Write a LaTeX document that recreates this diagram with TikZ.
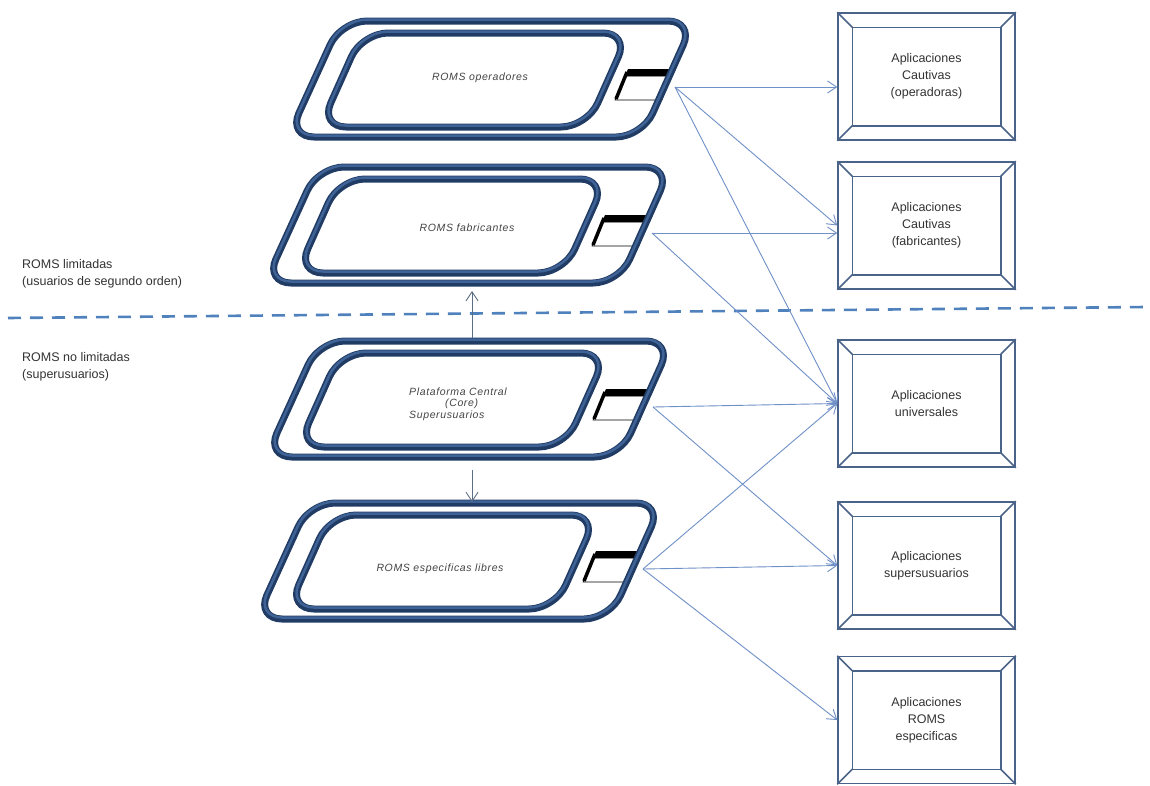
\documentclass[tikz,border=0pt]{standalone}
\usepackage{fontspec}
\setmainfont{Liberation Sans}
\newfontfamily\romfont[LetterSpace=6]{Liberation Sans}
\usepackage{xcolor}
\usetikzlibrary{calc}
\usetikzlibrary{arrows.meta}
\usetikzlibrary{positioning}

\definecolor{ringdark}{HTML}{213C64}
\definecolor{ringlight}{HTML}{3F6396}
\definecolor{linkblue}{HTML}{7090C8}
\definecolor{vlinkgray}{HTML}{5C6E86}
\definecolor{boxline}{HTML}{4A6388}
\definecolor{dashblue}{HTML}{4F81BD}
\definecolor{txtgray}{HTML}{333333}
\definecolor{romtxt}{HTML}{444444}

\begin{document}
\begin{tikzpicture}[x=1pt,y=-1pt]
% 1 = 1px, y runs down
    \def\OTOP{-66}  % outer ring top, relative to port
    \def\OBOT{50}   % outer ring bottom
    \def\ITOP{-54}  % inner ring top
    \def\IBOT{40}   % inner ring bottom

    \tikzset{
      ring/.style={draw=ringdark, line width=7pt, rounded corners=26pt},
      ringhl/.style={draw=ringlight, line width=2.5pt, rounded corners=26pt},
      romlabel/.style={font=\romfont\fontsize{10.5}{11.5}\selectfont\itshape,
        text=romtxt, inner sep=0pt},
      appbox/.style={draw=boxline, line width=1.5pt, minimum width=177pt,
        minimum height=127pt, inner sep=0pt, align=center, text=txtgray,
        font=\fontsize{12.5}{17}\selectfont},
      sidelabel/.style={anchor=west, align=left, inner sep=0pt, text=txtgray,
        font=\fontsize{12.5}{17}\selectfont},
      link/.style={draw=linkblue, line width=0.9pt,
        -{Straight Barb[length=9pt,width=12pt]}},
      vlink/.style={draw=vlinkgray, line width=0.9pt,
        -{Straight Barb[length=9pt,width=12pt]}},
      dashline/.style={draw=dashblue, line width=2.6pt,
        dash pattern=on 13pt off 9pt},
    }

    \path[use as bounding box, fill=white] (0,0) rectangle (1150,785);

    % DASHED BORDER (LIMITADAS / NO LIMITADAS)
    \draw[dashline] (8,318) -- (1145,307);

    % ROM PLATES (port, outer ring, inner ring)
    \foreach \px/\py in {675/87, 652/233, 653/407, 643/569} {
      \begin{scope}[shift={(\px,\py)}]
        \draw[fill=white, line width=0.6pt] (-50,-11) -- (-5,-11)
            -- (-13,13) -- (-60,13) -- cycle;
        \fill[black] (-47,-18) -- (-2,-18) -- (-5,-11) -- (-50,-11) -- cycle;
        \draw[black, line width=3.5pt] (-48,-15) -- (-59,12);
        \draw[ring] (-334,\OTOP) -- (19,\OTOP) -- (-33,\OBOT)
            -- (-387,\OBOT) -- cycle;
        \draw[ringhl] (-334,\OTOP-1.5) -- (19,\OTOP-1.5) -- (-33,\OBOT-1.5)
            -- (-387,\OBOT-1.5) -- cycle;
        \draw[ring, fill=white] (-313,\ITOP) -- (-46,\ITOP) -- (-88,\IBOT)
            -- (-355,\IBOT) -- cycle;
        \draw[ringhl] (-313,\ITOP-1.5) -- (-46,\ITOP-1.5) -- (-88,\IBOT-1.5)
            -- (-355,\IBOT-1.5) -- cycle;
      \end{scope}
    }

    % PORTS
    \coordinate (P1) at (675,87);
    \coordinate (P2) at (652,233);
    \coordinate (P3) at (653,407);
    \coordinate (P4) at (643,569);

    % ROM LABELS
    \node[romlabel] (R1) at (480,78) {ROMS operadores};
    \node[romlabel] (R2) at (467,228) {ROMS fabricantes};
    \node[romlabel, align=left] (R3) at (458,404)
        {Plataforma Central\\\hspace*{36pt}(Core)\\Superusuarios};
    \node[romlabel] (R4) at (440,569) {ROMS especificas libres};

    % SIDE LABELS
    \node[sidelabel] (L1) at (22,273.5)
        {ROMS limitadas\\(usuarios de segundo orden)};
    \node[sidelabel] (L2) at (22,366.5)
        {ROMS no limitadas\\(superusuarios)};

    % APPLICATION BOXES
    \node[appbox] (A1) at (926.5,76.5) {Aplicaciones\\Cautivas\\(operadoras)};
    \node[appbox] (A2) at (926.5,225.5) {Aplicaciones\\Cautivas\\(fabricantes)};
    \node[appbox] (A3) at (926.5,403.5) {Aplicaciones\\universales};
    \node[appbox] (A4) at (926.5,565.5) {Aplicaciones\\supersusuarios};
    \node[appbox] (A5) at (926.5,720) {Aplicaciones\\ROMS\\especificas};

    % bevelled frames
    \foreach \b in {A1,A2,A3,A4,A5} {
      \draw[draw=boxline, line width=1.5pt]
          ([shift={(15,15)}]\b.north west) rectangle ([shift={(-15,-15)}]\b.south east);
      \draw[draw=boxline, line width=1.5pt]
          (\b.north west) -- ([shift={(15,15)}]\b.north west)
          (\b.north east) -- ([shift={(-15,15)}]\b.north east)
          (\b.south east) -- ([shift={(-15,-15)}]\b.south east)
          (\b.south west) -- ([shift={(15,-15)}]\b.south west);
    }

    % CONNECTORS
    \draw[link] (P1) -- (A1.west |- P1);
    \draw[link] (P1) -- (A2.west);
    \draw[link] (P1) -- (A3.west);
    \draw[link] (P2) -- (A2.west |- P2);
    \draw[link] (P2) -- (A3.west);
    \draw[link] (P3) -- (A3.west);
    \draw[link] (P3) -- (A4.west);
    \draw[link] (P4) -- (A3.west);
    \draw[link] (P4) -- (A4.west);
    \draw[link] (P4) -- (A5.west);

    % VERTICAL ARROWS (CORE)
    \coordinate (S3top) at (472,338);
    \coordinate (S2bot) at (472,291);
    \coordinate (S3bot) at (472,470);
    \coordinate (S4top) at (472,502);
    \draw[vlink] (S3top) -- (S2bot);
    \draw[vlink] (S3bot) -- (S4top);

\end{tikzpicture}
\end{document}
